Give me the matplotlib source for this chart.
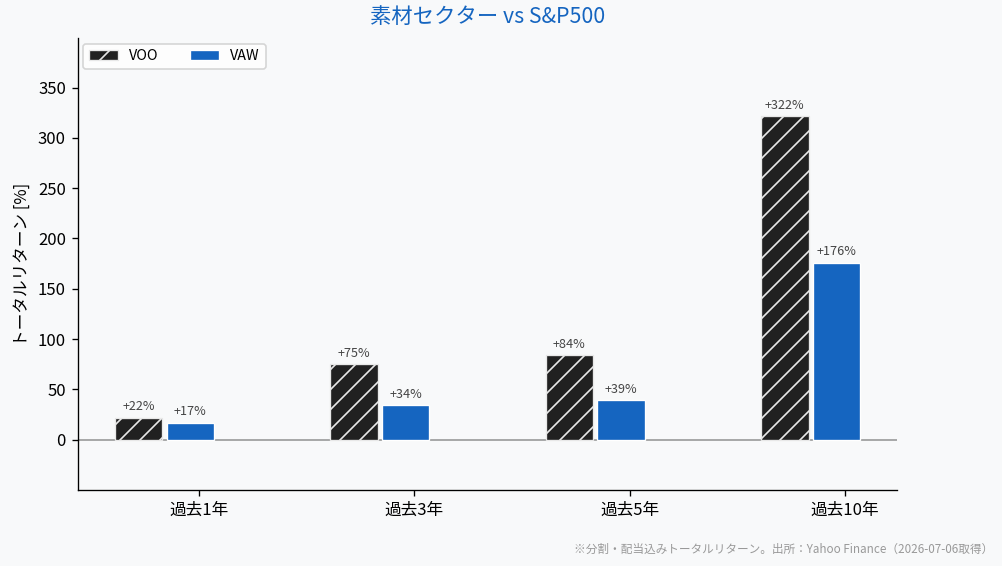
import matplotlib
matplotlib.use("Agg")
import matplotlib.pyplot as plt
import numpy as np

plt.rcParams["font.family"] = ["Noto Sans CJK JP", "DejaVu Sans"]
plt.rcParams["hatch.linewidth"] = 1.0

# ---------------------------------------------------------------------------
# data
# ---------------------------------------------------------------------------
periods = ["過去1年", "過去3年", "過去5年", "過去10年"]
voo_ret = [22, 75, 84, 322]
vaw_ret = [17, 34, 39, 176]
series_names = ["VOO", "VAW"]

BG = "#f8f9fa"
C_VOO = "#212121"
C_VAW = "#1565c0"

fig = plt.figure(figsize=(1003 / 120, 566 / 120), dpi=120, facecolor=BG)
ax = fig.add_axes([0.0773, 0.1343, 0.8175, 0.7987])
ax.set_facecolor(BG)

x = np.arange(len(periods))
w = 0.22
b1 = ax.bar(x - 0.28, voo_ret, w, color=C_VOO, edgecolor="#e8e8e8",
            hatch="//", linewidth=0.8, label=series_names[0], zorder=3)
b2 = ax.bar(x - 0.04, vaw_ret, w, color=C_VAW, edgecolor="white",
            linewidth=0.8, label=series_names[1], zorder=3)

for bars in (b1, b2):
    for r in bars:
        h = r.get_height()
        ax.annotate(f"+{h:.0f}%", (r.get_x() + r.get_width() / 2, h),
                    xytext=(0, 2.5), textcoords="offset points",
                    ha="center", va="bottom", fontsize=7.6, color="#444444")

ax.axhline(0, color="#999999", lw=1.0, zorder=2)
ax.set_ylim(-50, max(voo_ret) * 1.24)
ax.set_yticks(range(0, 351, 50))
ax.set_xticks(x)
ax.set_xticklabels(periods)
ax.tick_params(labelsize=10)
ax.set_ylabel("トータルリターン [%]", fontsize=10)
ax.spines["top"].set_visible(False)
ax.spines["right"].set_visible(False)

ax.set_title("素材セクター vs S&P500", fontsize=12.8, color=C_VAW, pad=9)
leg = ax.legend(loc="upper left", ncol=2, fontsize=8.6, frameon=True,
                borderaxespad=0.4, columnspacing=2.2)
leg.get_frame().set_edgecolor("#cccccc")
leg.get_frame().set_facecolor("white")

fig.text(0.99, 0.03, "※分割・配当込みトータルリターン。出所：Yahoo Finance（2026-07-06取得）",
         ha="right", va="center", fontsize=7, color="#999999")

fig.savefig("out.png", dpi=120, facecolor=BG)
